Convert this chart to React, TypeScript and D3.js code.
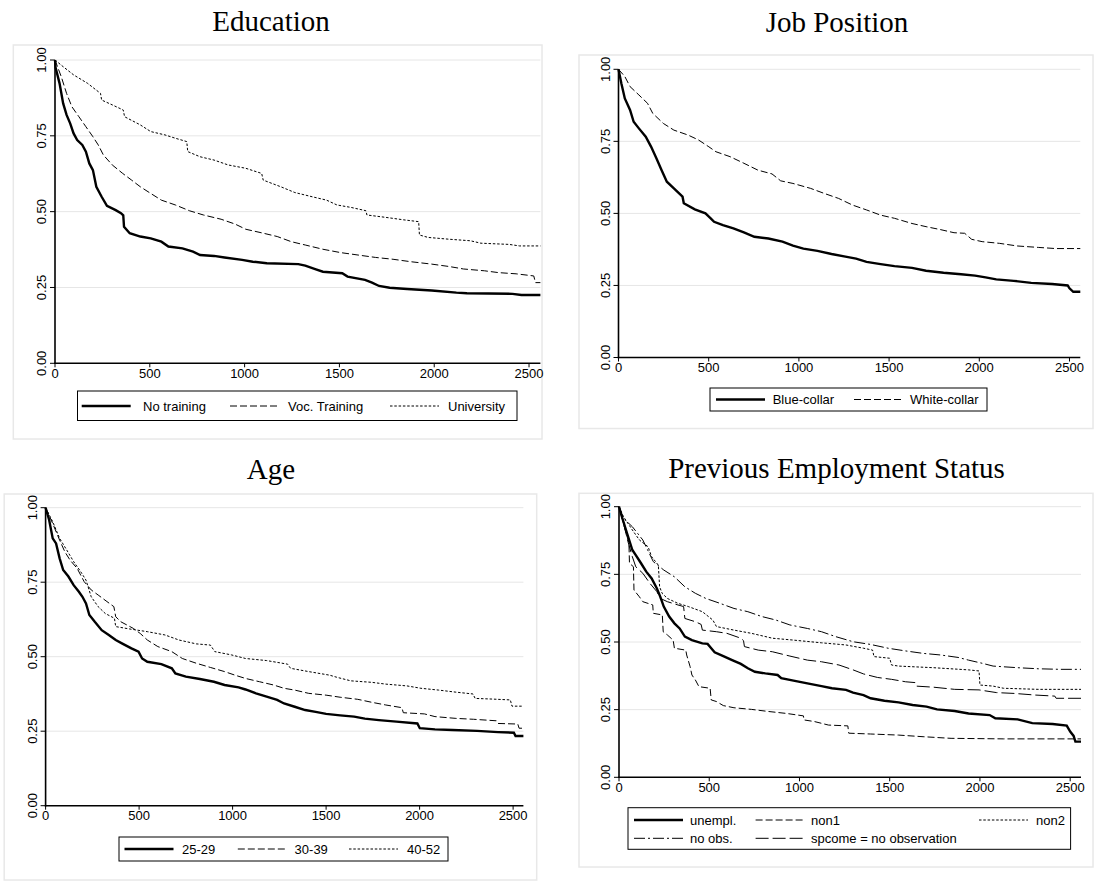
import React from "react";
import * as d3 from "d3";

type Pt = [number, number];

// ---------- tick values ----------
const xTicks = [0, 500, 1000, 1500, 2000, 2500];
const yTicks = [0, 0.25, 0.5, 0.75, 1];
const yTickLabels = ["0.00", "0.25", "0.50", "0.75", "1.00"];

// ---------- Education ----------
const eduLabels = ["No training", "Voc. Training", "University"];
const eduNoTraining: Pt[] = [[0,1],[3,0.975],[24,0.923],[43,0.857],[61,0.819],[80,0.791],[98,0.758],[117,0.736],[144,0.72],[163,0.698],[181,0.659],[200,0.637],[218,0.582],[246,0.549],[274,0.519],[320,0.505],[348,0.495],[360,0.488],[364,0.45],[394,0.429],[450,0.418],[505,0.412],[561,0.401],[598,0.385],[672,0.379],[728,0.368],[765,0.357],[839,0.354],[894,0.349],[987,0.341],[1043,0.335],[1117,0.33],[1283,0.327],[1320,0.322],[1376,0.31],[1413,0.302],[1515,0.297],[1543,0.286],[1635,0.275],[1672,0.266],[1709,0.255],[1765,0.249],[1857,0.245],[1987,0.24],[2117,0.233],[2172,0.231],[2413,0.229],[2460,0.225],[2560,0.225]];
const eduVoc: Pt[] = [[0,1],[33,0.945],[61,0.89],[89,0.846],[126,0.813],[163,0.78],[200,0.747],[228,0.72],[255,0.687],[302,0.654],[357,0.626],[404,0.604],[450,0.582],[505,0.56],[561,0.538],[635,0.522],[709,0.503],[783,0.489],[876,0.475],[950,0.459],[1006,0.442],[1098,0.429],[1172,0.418],[1246,0.401],[1320,0.39],[1413,0.376],[1506,0.365],[1598,0.357],[1691,0.349],[1783,0.343],[1876,0.335],[1987,0.327],[2080,0.319],[2154,0.311],[2265,0.305],[2339,0.299],[2432,0.295],[2525,0.288],[2534,0.266],[2560,0.266]];
const eduUniv: Pt[] = [[0,1],[43,0.978],[98,0.951],[172,0.923],[240,0.89],[246,0.868],[302,0.852],[360,0.835],[367,0.813],[450,0.786],[505,0.764],[580,0.753],[635,0.742],[695,0.731],[700,0.698],[765,0.681],[839,0.67],[913,0.654],[1006,0.643],[1090,0.626],[1098,0.604],[1191,0.582],[1265,0.563],[1357,0.549],[1432,0.538],[1487,0.522],[1561,0.514],[1640,0.503],[1645,0.489],[1746,0.481],[1839,0.473],[1918,0.467],[1922,0.423],[1968,0.415],[2080,0.409],[2191,0.404],[2246,0.396],[2395,0.392],[2450,0.387],[2560,0.387]];

// ---------- Job Position ----------
const jobLabels = ["Blue-collar", "White-collar"];
const jobBlue: Pt[] = [[0,1],[16,0.951],[35,0.899],[64,0.859],[84,0.818],[113,0.795],[151,0.766],[181,0.731],[210,0.691],[239,0.65],[268,0.61],[307,0.587],[355,0.558],[362,0.535],[423,0.514],[482,0.5],[511,0.483],[530,0.471],[579,0.459],[637,0.448],[695,0.434],[753,0.419],[831,0.413],[909,0.402],[967,0.388],[1025,0.378],[1103,0.37],[1181,0.359],[1258,0.35],[1317,0.343],[1375,0.332],[1453,0.324],[1530,0.317],[1627,0.311],[1705,0.301],[1802,0.294],[1899,0.289],[1977,0.284],[2035,0.278],[2094,0.271],[2191,0.266],[2288,0.259],[2404,0.255],[2490,0.25],[2500,0.24],[2521,0.228],[2560,0.228]];
const jobWhite: Pt[] = [[0,1],[35,0.975],[64,0.94],[113,0.911],[161,0.882],[190,0.847],[249,0.812],[307,0.789],[385,0.772],[443,0.755],[501,0.731],[540,0.714],[618,0.697],[695,0.674],[773,0.65],[851,0.637],[899,0.613],[967,0.604],[1064,0.587],[1142,0.569],[1220,0.552],[1297,0.529],[1375,0.512],[1453,0.494],[1530,0.483],[1627,0.465],[1705,0.454],[1783,0.444],[1860,0.433],[1919,0.431],[1958,0.41],[2016,0.402],[2113,0.396],[2210,0.387],[2327,0.382],[2424,0.378],[2560,0.378]];

// ---------- Age ----------
const ageLabels = ["25-29", "30-39", "40-52"];
const age2529: Pt[] = [[0,1],[19,0.959],[38,0.897],[56,0.88],[75,0.83],[94,0.791],[122,0.769],[150,0.74],[178,0.718],[197,0.701],[216,0.679],[234,0.64],[263,0.617],[300,0.589],[338,0.573],[375,0.556],[413,0.543],[459,0.528],[497,0.517],[516,0.494],[544,0.483],[619,0.475],[675,0.461],[694,0.444],[750,0.433],[825,0.425],[900,0.416],[957,0.405],[1032,0.397],[1069,0.39],[1125,0.377],[1182,0.366],[1238,0.355],[1275,0.343],[1332,0.332],[1388,0.321],[1444,0.315],[1500,0.308],[1575,0.303],[1650,0.299],[1707,0.292],[1782,0.287],[1876,0.282],[1988,0.276],[2001,0.26],[2082,0.256],[2176,0.254],[2307,0.251],[2419,0.247],[2504,0.245],[2513,0.234],[2555,0.234]];
const age3039: Pt[] = [[0,1],[38,0.947],[75,0.891],[103,0.852],[131,0.824],[169,0.796],[206,0.752],[244,0.724],[281,0.707],[328,0.685],[365,0.668],[375,0.634],[403,0.617],[469,0.595],[506,0.578],[544,0.556],[600,0.534],[675,0.517],[731,0.494],[806,0.478],[881,0.464],[957,0.45],[1013,0.438],[1069,0.427],[1144,0.416],[1219,0.405],[1275,0.394],[1332,0.388],[1407,0.377],[1500,0.371],[1575,0.364],[1669,0.357],[1744,0.347],[1819,0.338],[1905,0.329],[1913,0.312],[2026,0.308],[2082,0.299],[2194,0.293],[2288,0.29],[2410,0.285],[2419,0.276],[2525,0.274],[2532,0.26],[2555,0.26]];
const age4052: Pt[] = [[0,1],[38,0.953],[75,0.897],[113,0.858],[150,0.819],[188,0.785],[216,0.757],[244,0.701],[281,0.668],[319,0.645],[368,0.629],[375,0.601],[450,0.593],[544,0.584],[638,0.573],[713,0.556],[806,0.543],[881,0.539],[905,0.517],[994,0.506],[1069,0.494],[1182,0.487],[1294,0.475],[1310,0.461],[1407,0.45],[1519,0.438],[1557,0.431],[1632,0.419],[1744,0.414],[1819,0.408],[1932,0.402],[2007,0.394],[2101,0.388],[2194,0.381],[2285,0.375],[2297,0.36],[2382,0.358],[2485,0.355],[2494,0.334],[2555,0.334]];

// ---------- Previous Employment Status ----------
const prevLabels = ["unempl.", "non1", "non2", "no obs.", "spcome = no observation"];
const prevUnempl: Pt[] = [[0,1],[16,0.963],[45,0.901],[74,0.84],[93,0.821],[122,0.791],[151,0.76],[181,0.735],[210,0.698],[229,0.667],[248,0.631],[278,0.594],[307,0.569],[336,0.55],[365,0.52],[404,0.507],[462,0.495],[491,0.493],[511,0.477],[530,0.462],[578,0.448],[627,0.433],[675,0.419],[714,0.403],[753,0.39],[811,0.384],[879,0.378],[899,0.366],[967,0.357],[1044,0.347],[1122,0.337],[1180,0.329],[1258,0.323],[1297,0.313],[1355,0.304],[1394,0.292],[1471,0.283],[1549,0.277],[1627,0.267],[1704,0.261],[1762,0.251],[1860,0.245],[1937,0.236],[2054,0.23],[2085,0.218],[2209,0.214],[2290,0.2],[2403,0.197],[2481,0.191],[2500,0.169],[2519,0.153],[2529,0.132],[2560,0.132]];
const prevNon1: Pt[] = [[0,1],[25,0.938],[55,0.865],[58,0.791],[80,0.778],[83,0.692],[113,0.667],[132,0.649],[187,0.637],[190,0.606],[240,0.6],[245,0.538],[268,0.526],[300,0.507],[307,0.477],[370,0.47],[375,0.452],[394,0.409],[404,0.378],[423,0.36],[443,0.335],[505,0.329],[511,0.286],[540,0.28],[578,0.265],[637,0.257],[734,0.251],[831,0.243],[928,0.236],[1022,0.227],[1025,0.212],[1083,0.206],[1161,0.193],[1268,0.19],[1273,0.163],[1394,0.16],[1549,0.156],[1685,0.15],[1840,0.144],[2131,0.142],[2560,0.142]];
const prevNon2: Pt[] = [[0,1],[25,0.963],[74,0.914],[113,0.877],[161,0.852],[181,0.815],[218,0.784],[225,0.704],[239,0.68],[268,0.661],[326,0.643],[384,0.631],[462,0.612],[520,0.581],[540,0.557],[637,0.544],[734,0.532],[850,0.514],[967,0.507],[1122,0.497],[1258,0.489],[1355,0.477],[1405,0.47],[1413,0.446],[1500,0.44],[1510,0.415],[1549,0.411],[1743,0.405],[1937,0.397],[1995,0.393],[2000,0.341],[2073,0.337],[2131,0.329],[2325,0.325],[2560,0.325]];
const prevNoObs: Pt[] = [[0,1],[25,0.957],[74,0.926],[132,0.877],[190,0.797],[248,0.766],[307,0.741],[365,0.704],[423,0.68],[481,0.661],[559,0.643],[637,0.624],[714,0.612],[792,0.594],[870,0.581],[947,0.563],[1044,0.55],[1122,0.538],[1200,0.52],[1297,0.501],[1394,0.491],[1491,0.477],[1588,0.467],[1685,0.458],[1782,0.452],[1879,0.443],[1937,0.433],[2015,0.421],[2073,0.411],[2209,0.405],[2325,0.401],[2442,0.399],[2560,0.399]];
const prevSpcome: Pt[] = [[0,1],[25,0.938],[50,0.87],[74,0.815],[93,0.778],[132,0.754],[171,0.717],[210,0.686],[229,0.661],[268,0.649],[326,0.637],[358,0.631],[365,0.587],[423,0.575],[455,0.565],[462,0.544],[540,0.538],[598,0.532],[675,0.514],[690,0.505],[695,0.483],[772,0.47],[850,0.464],[947,0.448],[1044,0.433],[1122,0.427],[1219,0.415],[1297,0.397],[1355,0.382],[1432,0.369],[1510,0.362],[1588,0.353],[1640,0.35],[1646,0.337],[1743,0.333],[1860,0.325],[1995,0.323],[2092,0.313],[2189,0.31],[2306,0.304],[2415,0.3],[2422,0.292],[2560,0.292]];

// ---------- styles ----------
type LineStyle = { w: number; dash: string | null };
const ST: Record<string, LineStyle> = {
  solid: { w: 2.4, dash: null },
  dash: { w: 1, dash: "7,3" },
  dot: { w: 1, dash: "2.5,1.8" },
  dashdot: { w: 1, dash: "11,3,2,3" },
  longdash: { w: 1, dash: "13,4" },
};

const SANS = "'Liberation Sans', Arial, Helvetica, sans-serif";
const SERIF = "'Liberation Serif', 'Times New Roman', Times, serif";

type LegendItem = { sx: number; tx: number; y: number };
type PanelCfg = {
  title: string;
  titleX: number;
  titleY: number;
  frame: [number, number, number, number];
  plot: { x0: number; x1: number; yTop: number; yBot: number };
  xMax: number;
  series: { data: Pt[]; style: LineStyle; label: string }[];
  legendBox: [number, number, number, number];
  legendItems: LegendItem[];
};

const panels: PanelCfg[] = [
  {
    title: "Education", titleX: 271, titleY: 31,
    frame: [13.3, 45, 542, 439],
    plot: { x0: 55, x1: 540.4, yTop: 60, yBot: 363.3 }, xMax: 2560,
    series: [
      { data: eduNoTraining, style: ST.solid, label: eduLabels[0] },
      { data: eduVoc, style: ST.dash, label: eduLabels[1] },
      { data: eduUniv, style: ST.dot, label: eduLabels[2] },
    ],
    legendBox: [77.5, 391, 517, 420.5],
    legendItems: [{ sx: 81.7, tx: 143, y: 406 }, { sx: 230, tx: 288, y: 406 }, { sx: 390, tx: 448, y: 406 }],
  },
  {
    title: "Job Position", titleX: 837, titleY: 32,
    frame: [579, 55, 1093, 428.5],
    plot: { x0: 618.5, x1: 1080.3, yTop: 69.3, yBot: 357.5 }, xMax: 2560,
    series: [
      { data: jobBlue, style: ST.solid, label: jobLabels[0] },
      { data: jobWhite, style: ST.dash, label: jobLabels[1] },
    ],
    legendBox: [710, 388, 987, 411],
    legendItems: [{ sx: 716, tx: 772.7, y: 399.5 }, { sx: 854, tx: 910, y: 399.5 }],
  },
  {
    title: "Age", titleX: 271, titleY: 479,
    frame: [4.2, 494, 536.7, 880],
    plot: { x0: 45.6, x1: 523.4, yTop: 507.7, yBot: 805.7 }, xMax: 2555,
    series: [
      { data: age2529, style: ST.solid, label: ageLabels[0] },
      { data: age3039, style: ST.dash, label: ageLabels[1] },
      { data: age4052, style: ST.dot, label: ageLabels[2] },
    ],
    legendBox: [119, 837, 448, 861],
    legendItems: [{ sx: 124.5, tx: 182, y: 849 }, { sx: 237.8, tx: 294.6, y: 849 }, { sx: 349, tx: 407, y: 849 }],
  },
  {
    title: "Previous Employment Status", titleX: 836.5, titleY: 478,
    frame: [579, 493.3, 1093, 867],
    plot: { x0: 619, x1: 1081, yTop: 506.7, yBot: 777.3 }, xMax: 2560,
    series: [
      { data: prevUnempl, style: ST.solid, label: prevLabels[0] },
      { data: prevNon1, style: ST.dash, label: prevLabels[1] },
      { data: prevNon2, style: ST.dot, label: prevLabels[2] },
      { data: prevNoObs, style: ST.dashdot, label: prevLabels[3] },
      { data: prevSpcome, style: ST.longdash, label: prevLabels[4] },
    ],
    legendBox: [628, 807.7, 1070.6, 849.3],
    legendItems: [
      { sx: 634, tx: 690, y: 820 }, { sx: 755.6, tx: 811, y: 820 }, { sx: 979, tx: 1036, y: 820 },
      { sx: 634, tx: 690, y: 838.3 }, { sx: 755.6, tx: 811, y: 838.3 },
    ],
  },
];

function Panel({ cfg }: { cfg: PanelCfg }) {
  const { plot } = cfg;
  const x = d3.scaleLinear().domain([0, cfg.xMax]).range([plot.x0, plot.x1]);
  const y = d3.scaleLinear().domain([0, 1]).range([plot.yBot, plot.yTop]);
  const line = d3.line<Pt>().x((d) => x(d[0])).y((d) => y(d[1])).curve(d3.curveLinear);
  const [fx0, fy0, fx1, fy1] = cfg.frame;
  const [lx0, ly0, lx1, ly1] = cfg.legendBox;
  return (
    <g>
      <rect x={fx0} y={fy0} width={fx1 - fx0} height={fy1 - fy0} fill="#fff" stroke="#e8e8e8" strokeWidth={1.5} />
      <text x={cfg.titleX} y={cfg.titleY} textAnchor="middle" fontFamily={SERIF} fontSize={29} fill="#000">{cfg.title}</text>
      {yTicks.filter((t) => t > 0).map((t) => (
        <line key={"g" + t} x1={plot.x0} x2={plot.x1} y1={y(t)} y2={y(t)} stroke="#e6e6e6" strokeWidth={1} />
      ))}
      {cfg.series.map((s, i) => (
        <path key={i} d={line(s.data) || ""} fill="none" stroke="#000" strokeWidth={s.style.w}
          strokeDasharray={s.style.dash || undefined} strokeLinejoin="miter" />
      ))}
      <line x1={plot.x0} x2={plot.x0} y1={plot.yTop} y2={plot.yBot + 0.8} stroke="#000" strokeWidth={1.6} />
      <line x1={plot.x0 - 0.8} x2={plot.x1} y1={plot.yBot} y2={plot.yBot} stroke="#000" strokeWidth={1.6} />
      {yTicks.map((t, i) => (
        <g key={"y" + t}>
          <line x1={plot.x0 - 5} x2={plot.x0} y1={y(t)} y2={y(t)} stroke="#000" strokeWidth={1} />
          <text transform={`translate(${plot.x0 - 9},${y(t)}) rotate(-90)`} textAnchor="middle"
            fontFamily={SANS} fontSize={13} fill="#000">{yTickLabels[i]}</text>
        </g>
      ))}
      {xTicks.map((t) => (
        <g key={"x" + t}>
          <line x1={x(t)} x2={x(t)} y1={plot.yBot} y2={plot.yBot + 4} stroke="#000" strokeWidth={1} />
          <text x={x(t)} y={plot.yBot + 14.5} textAnchor="middle" fontFamily={SANS} fontSize={13} fill="#000">{t}</text>
        </g>
      ))}
      <rect x={lx0} y={ly0} width={lx1 - lx0} height={ly1 - ly0} fill="#fff" stroke="#000" strokeWidth={1} />
      {cfg.series.map((s, i) => {
        const it = cfg.legendItems[i];
        return (
          <g key={"l" + i}>
            <line x1={it.sx} x2={it.sx + 49} y1={it.y} y2={it.y} stroke="#000" strokeWidth={s.style.w}
              strokeDasharray={s.style.dash || undefined} />
            <text x={it.tx} y={it.y + 4.6} fontFamily={SANS} fontSize={13} fill="#000">{s.label}</text>
          </g>
        );
      })}
    </g>
  );
}

export default function App() {
  return (
    <div style={{ position: "absolute", left: 0, top: 0 }}>
      <svg width={1097} height={889} viewBox="0 0 1097 889" style={{ display: "block", background: "#fff" }}>
        <rect x={0} y={0} width={1097} height={889} fill="#fff" />
        {panels.map((p, i) => (
          <Panel key={i} cfg={p} />
        ))}
      </svg>
    </div>
  );
}
